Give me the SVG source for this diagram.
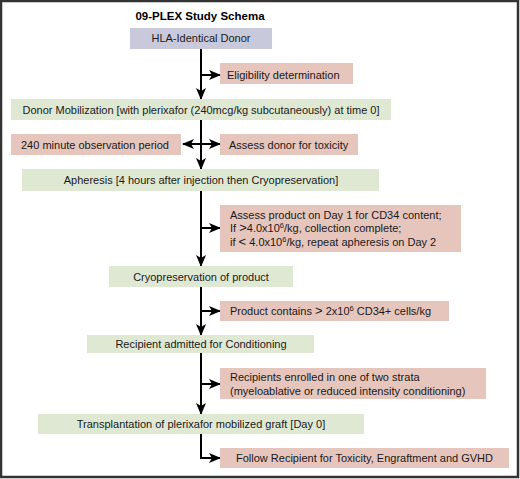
<svg xmlns="http://www.w3.org/2000/svg" width="520" height="479" viewBox="0 0 520 479">
<defs>
<marker id="ah" markerUnits="userSpaceOnUse" markerWidth="12" markerHeight="10" refX="11" refY="5" orient="auto-start-reverse" viewBox="0 0 12 10">
<path d="M0,0 L12,5 L0,10 L3,5 Z" fill="#000"/>
</marker>
<style>
text{font-family:"Liberation Sans",Arial,sans-serif;font-size:11px;fill:#1a1a1a}
.g{fill:#dfe8d3}
.p{fill:#e6c5bc}
.l{fill:#c9c9dc}
.c{text-anchor:middle}
.ln{stroke:#000;stroke-width:2;fill:none}
.ar{marker-end:url(#ah)}
</style>
</defs>
<rect x="0" y="0" width="520" height="479" fill="#fff"/>
<rect x="1" y="1" width="517" height="476" fill="none" stroke="#333" stroke-width="2.5"/>
<text x="200" y="20" class="c" style="font-weight:bold;font-size:11.5px;fill:#000">09-PLEX Study Schema</text>

<g id="connectors">
<path class="ln ar" d="M201,49 V99"/>
<path class="ln ar" d="M201,75 H220"/>
<path class="ln ar" d="M201,120 V169"/>
<path class="ln" d="M183,144 H220" marker-start="url(#ah)" marker-end="url(#ah)"/>
<path class="ln ar" d="M201,191 V266"/>
<path class="ln ar" d="M201,228 H220"/>
<path class="ln ar" d="M201,287 V335"/>
<path class="ln ar" d="M201,311 H220"/>
<path class="ln ar" d="M201,353 V414"/>
<path class="ln ar" d="M201,384 H220"/>
<path class="ln ar" d="M201,434 V458 H220"/>
</g>

<g id="hla"><rect class="l" x="130" y="28" width="142" height="21"/><text x="201" y="42" class="c">HLA-Identical Donor</text></g>
<g id="eligibility"><rect class="p" x="220" y="63" width="133" height="21"/><text x="227" y="78.5">Eligibility determination</text></g>
<g id="mobilization"><rect class="g" x="11" y="99" width="380" height="21"/><text x="201" y="113.5" class="c">Donor Mobilization [with plerixafor (240mcg/kg subcutaneously) at time 0]</text></g>
<g id="observation"><rect class="p" x="11" y="134" width="170" height="21"/><text x="21" y="148.5">240 minute observation period</text></g>
<g id="toxicity"><rect class="p" x="220" y="134" width="138" height="21"/><text x="229" y="148.5">Assess donor for toxicity</text></g>
<g id="apheresis"><rect class="g" x="22" y="169" width="357" height="22"/><text x="201" y="184" class="c">Apheresis [4 hours after injection then Cryopreservation]</text></g>
<g id="assess"><rect class="p" x="220" y="205" width="241" height="47"/>
<text x="230" y="218.5">Assess product on Day 1 for CD34 content;</text>
<text x="230" y="232">If <tspan style="font-size:13px">&gt;</tspan>4.0x10<tspan dy="-4" style="font-size:7.5px">6</tspan><tspan dy="4">/kg, collection complete;</tspan></text>
<text x="230" y="245.5">if <tspan style="font-size:13px">&lt;</tspan> 4.0x10<tspan dy="-4" style="font-size:7.5px">6</tspan><tspan dy="4">/kg, repeat apheresis on Day 2</tspan></text>
</g>
<g id="cryo"><rect class="g" x="109" y="266" width="184" height="21"/><text x="201" y="280.5" class="c">Cryopreservation of product</text></g>
<g id="product"><rect class="p" x="220" y="301" width="229" height="20"/><text x="230" y="315">Product contains <tspan style="font-size:13px">&gt;</tspan> 2x10<tspan dy="-4" style="font-size:7.5px">6</tspan><tspan dy="4"> CD34+ cells/kg</tspan></text></g>
<g id="recipient"><rect class="g" x="87" y="335" width="227" height="18"/><text x="201" y="348" class="c">Recipient admitted for Conditioning</text></g>
<g id="strata"><rect class="p" x="220" y="368" width="266" height="31"/>
<text x="230" y="381">Recipients enrolled in one of two strata</text>
<text x="230" y="395">(myeloablative or reduced intensity conditioning)</text>
</g>
<g id="transplant"><rect class="g" x="38" y="414" width="326" height="20"/><text x="201" y="428" class="c">Transplantation of plerixafor mobilized graft [Day 0]</text></g>
<g id="follow"><rect class="p" x="220" y="448" width="289" height="20"/><text x="236" y="462">Follow Recipient for Toxicity, Engraftment and GVHD</text></g>
</svg>
